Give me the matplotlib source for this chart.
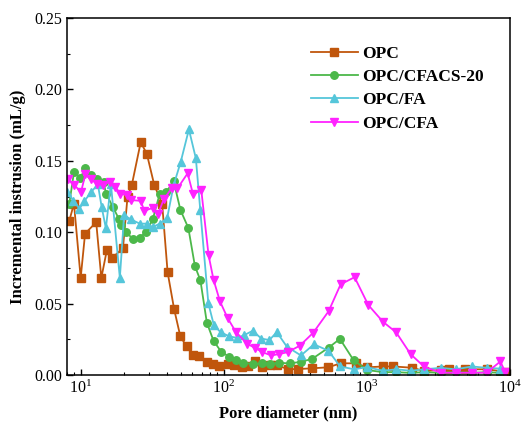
import matplotlib
matplotlib.use("Agg")
import matplotlib.pyplot as plt
from matplotlib.ticker import LogLocator, MultipleLocator, FormatStrFormatter, NullFormatter

plt.rcParams["font.family"] = ["Liberation Serif", "DejaVu Serif"]
plt.rcParams["mathtext.fontset"] = "custom"
plt.rcParams["mathtext.rm"] = "Liberation Serif"

# Pore diameter (nm) and incremental intrusion (mL/g) for each mix
opc_d = [8.3, 8.95, 9.97, 10.7, 12.8, 13.9, 15.2, 16.6, 19.7, 21.2,
         22.7, 26.2, 28.9, 32.6, 37.0, 40.4, 44.9, 49.6, 54.9, 60.4,
         67.1, 76.2, 84.0, 92.4, 106, 118, 133, 148, 165, 185,
         211, 236, 282, 332, 414, 536, 654, 832, 1001, 1305,
         1527, 2071, 2499, 3267, 3733, 4826, 6900, 9271]
opc_v = [0.108, 0.120, 0.068, 0.099, 0.107, 0.068, 0.0875, 0.082, 0.089, 0.125,
         0.133, 0.163, 0.155, 0.133, 0.120, 0.072, 0.046, 0.027, 0.020, 0.014,
         0.0135, 0.009, 0.008, 0.0065, 0.0075, 0.007, 0.0055, 0.006, 0.0095, 0.0058,
         0.007, 0.0068, 0.004, 0.0042, 0.0047, 0.0054, 0.0082, 0.0082, 0.0054, 0.006,
         0.006, 0.0051, 0.0028, 0.0035, 0.004, 0.004, 0.004, 0.0023]

cfacs_d = [8.3, 8.95, 9.93, 10.7, 11.8, 12.9, 14.4, 15.0, 16.7, 18.5,
           19.2, 20.6, 23.1, 25.8, 28.7, 31.8, 35.6, 39.5, 44.5,
           49.7, 56.4, 62.7, 68.5, 76.0, 84.6, 95.7, 109, 121, 137,
           159, 184, 211, 244, 289, 347, 414, 540, 647, 806,
           1001, 1294, 1602, 2019, 2499, 3267, 4177, 5425, 6867, 8557]
cfacs_v = [0.120, 0.142, 0.138, 0.1447, 0.140, 0.137, 0.135, 0.127, 0.118, 0.109,
           0.105, 0.100, 0.0955, 0.096, 0.1005, 0.109, 0.127, 0.128, 0.1358,
           0.1155, 0.103, 0.0763, 0.0663, 0.0366, 0.024, 0.0163, 0.0128, 0.0108, 0.0085,
           0.0077, 0.0081, 0.008, 0.0086, 0.0081, 0.0093, 0.0113, 0.0192, 0.0253, 0.0104,
           0.0035, 0.002, 0.002, 0.0015, 0.002, 0.0015, 0.002, 0.0015, 0.002, 0.0015]

fa_d = [8.06, 8.88, 9.77, 10.59, 11.76, 13.15, 13.96, 14.96, 16.21, 18.73,
        20.06, 22.34, 25.81, 28.88, 31.80, 35.57, 40.12, 44.53, 49.82, 56.92,
        63.68, 68.36, 77.84, 85.03, 94.67, 109.4, 124.3, 139.1, 159.0, 182.8,
        207.8, 234.4, 275.2, 345.6, 425.8, 538.1, 649.2, 812.8, 1001, 1294,
        1602, 2019, 2499, 3267, 4177, 5425, 6867, 8557]
fa_v = [0.128, 0.122, 0.1165, 0.1218, 0.128, 0.1335, 0.118, 0.1027, 0.134, 0.068,
        0.112, 0.109, 0.106, 0.106, 0.1036, 0.106, 0.110, 0.133, 0.149, 0.172,
        0.1517, 0.1155, 0.0502, 0.035, 0.030, 0.027, 0.026, 0.028, 0.031, 0.0255,
        0.0245, 0.030, 0.0199, 0.0137, 0.0215, 0.017, 0.006, 0.004, 0.0055, 0.003,
        0.004, 0.003, 0.004, 0.005, 0.004, 0.006, 0.005, 0.0045]

cfa_d = [8.13, 9.02, 10.01, 10.76, 11.76, 12.94, 14.25, 15.95, 17.29, 18.88,
         20.95, 22.34, 26.22, 27.74, 31.80, 34.73, 37.93, 43.12, 47.33, 55.74,
         60.89, 69.47, 78.09, 84.62, 93.91, 106.4, 121.0, 144.8, 164.7, 185.8,
         214.6, 244.0, 278.7, 339.0, 421.0, 539.8, 654.5, 819.2, 1022, 1294,
         1602, 2019, 2499, 3267, 4177, 5425, 6867, 8557, 9271]
cfa_v = [0.137, 0.133, 0.128, 0.1405, 0.137, 0.134, 0.133, 0.1354, 0.132, 0.127,
         0.126, 0.1225, 0.122, 0.115, 0.117, 0.113, 0.123, 0.1307, 0.1307, 0.1412,
         0.1265, 0.1295, 0.084, 0.0667, 0.0515, 0.0397, 0.0303, 0.022, 0.019, 0.016,
         0.0137, 0.0147, 0.016, 0.0205, 0.0296, 0.0447, 0.0635, 0.0685, 0.049, 0.0373,
         0.0298, 0.0146, 0.006, 0.0016, 0.0016, 0.0016, 0.0016, 0.0095, 0.002]

series = [
    ("OPC", opc_d, opc_v, "#C0560C", "s"),
    ("OPC/CFACS-20", cfacs_d, cfacs_v, "#4CB84A", "o"),
    ("OPC/FA", fa_d, fa_v, "#55C6DA", "^"),
    ("OPC/CFA", cfa_d, cfa_v, "#FF22FF", "v"),
]

fig = plt.figure(figsize=(5.21, 4.25), dpi=100)
ax = fig.add_axes([0.1286, 0.1176, 0.8503, 0.840])

for label, d, v, color, marker in series:
    ax.plot(d, v, color=color, marker=marker, markersize=5.4, linewidth=1.3,
            label=label, clip_on=True)

ax.set_xscale("log")
ax.set_xlim(8, 1e4)
ax.set_ylim(0, 0.25)
ax.yaxis.set_major_locator(MultipleLocator(0.05))
ax.yaxis.set_minor_locator(MultipleLocator(0.025))
ax.yaxis.set_major_formatter(FormatStrFormatter("%.2f"))
ax.xaxis.set_major_locator(LogLocator(base=10, numticks=10))
ax.xaxis.set_minor_locator(LogLocator(base=10, subs=range(2, 10), numticks=20))
ax.xaxis.set_minor_formatter(NullFormatter())

ax.tick_params(which="both", direction="in", labelsize=11.5)
ax.tick_params(which="major", length=4, width=1)
ax.tick_params(which="minor", length=2.5, width=0.8)
for sp in ax.spines.values():
    sp.set_linewidth(1.1)

ax.set_xlabel("Pore diameter (nm)", fontsize=12, fontweight="bold", labelpad=6)
ax.set_ylabel("Incremental instrusion (mL/g)", fontsize=12, fontweight="bold", labelpad=6)

leg = ax.legend(loc="upper right", bbox_to_anchor=(0.976, 0.965), frameon=False,
                prop={"weight": "bold", "size": 12.5}, handlelength=2.7,
                handletextpad=0.25, labelspacing=0.4)

fig.savefig("out.png", dpi=100)
